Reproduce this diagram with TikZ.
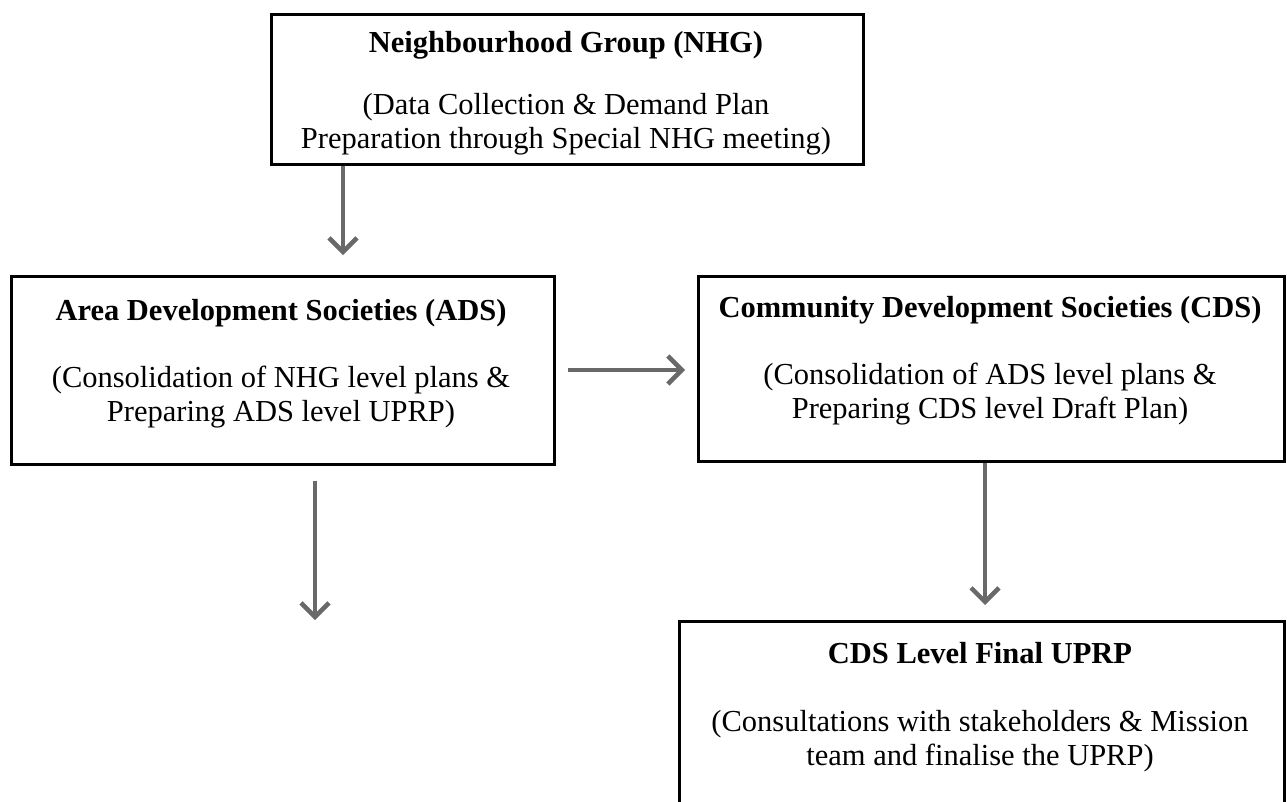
\documentclass[tikz,border=0pt]{standalone}
\usepackage{fontspec}
\setmainfont{Liberation Serif}
\usetikzlibrary{arrows.meta}
\definecolor{arrowgrey}{RGB}{105,105,105}
\tikzset{
  stagebox/.style={draw, line width=2.5pt, inner sep=0pt, anchor=north west},
  flow/.style={draw=arrowgrey, line width=4.5pt, -{Straight Barb[length=14pt,width=28pt]}},
  headtext/.style={inner sep=0pt, anchor=base, font=\fontsize{30.5}{34}\selectfont\bfseries},
  bodytext/.style={inner sep=0pt, anchor=north, align=center, font=\fontsize{30.5}{34}\selectfont},
}
\begin{document}
\begin{tikzpicture}[x=1pt,y=1pt,yscale=-1,xscale=1]
\useasboundingbox (0,0) rectangle (1287,801);

%Shape: Rectangle [NHG]
\node [stagebox, minimum width=592pt, minimum height=150pt] (nhg) at (270,13) {};
%Shape: Rectangle [ADS]
\node [stagebox, minimum width=543pt, minimum height=188pt] (ads) at (10,275) {};
%Shape: Rectangle [CDS]
\node [stagebox, minimum width=586pt, minimum height=185pt] (cds) at (697,275) {};
%Shape: Rectangle [final UPRP]
\node [stagebox, minimum width=605pt, minimum height=220pt] (uprp) at (678,620) {};
\coordinate (adsend) at (315,620);

%Straight Lines
\draw [flow, shorten >=20pt] (nhg.south -| 343,0) -- (ads.north -| 343,0);
%Straight Lines
\draw [flow, shorten <=12pt, shorten >=12pt] (ads.east |- 0,370) -- (cds.west |- 0,370);
%Straight Lines
\draw [flow, shorten <=15pt] (ads.south -| adsend) -- (adsend);
%Straight Lines
\draw [flow, shorten >=15pt] (cds.south -| 985,0) -- (uprp.north -| 985,0);

% Text Node
\draw (566,52) node [headtext] (nhghead) {Neighbourhood Group (NHG)};
% Text Node
\draw (566,93) node [bodytext] (nhgbody) {(Data Collection \& Demand Plan\\Preparation through Special NHG meeting)};
% Text Node
\draw (281,320) node [headtext] (adshead) {Area Development Societies (ADS)};
% Text Node
\draw (281,366) node [bodytext] (adsbody) {(Consolidation of NHG level plans \&\\Preparing ADS level UPRP)};
% Text Node
\draw (990,317) node [headtext] (cdshead) {Community Development Societies (CDS)};
% Text Node
\draw (990,363) node [bodytext] (cdsbody) {(Consolidation of ADS level plans \&\\Preparing CDS level Draft Plan)};
% Text Node
\draw (980,663) node [headtext] (uprphead) {CDS Level Final UPRP};
% Text Node
\draw (980,710) node [bodytext] (uprpbody) {(Consultations with stakeholders \& Mission\\team and finalise the UPRP)};

\end{tikzpicture}
\end{document}
